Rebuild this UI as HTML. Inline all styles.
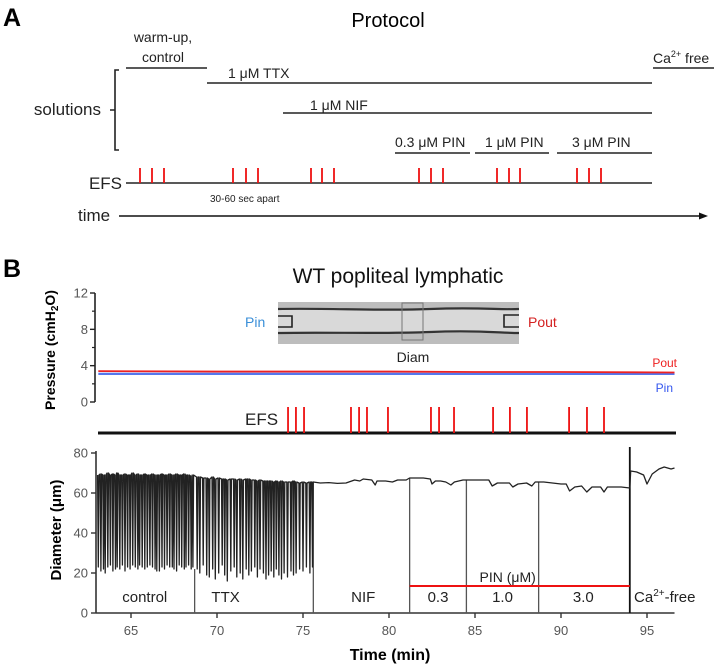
<!DOCTYPE html>
<html><head><meta charset="utf-8">
<style>
html,body{margin:0;padding:0;background:#fff;}
svg{display:block;font-family:"Liberation Sans",sans-serif;}
</style></head>
<body>
<svg id="fig" width="720" height="666" viewBox="0 0 720 666" xmlns="http://www.w3.org/2000/svg">
<!-- Panel A -->
<g>
<text x="3" y="26" font-size="25" font-weight="bold">A</text>
<text x="388" y="27" font-size="20" text-anchor="middle">Protocol</text>
<text x="163" y="42" font-size="14" text-anchor="middle" fill="#222">warm-up,</text>
<text x="163" y="62" font-size="14" text-anchor="middle" fill="#222">control</text>
<line x1="126" y1="68" x2="207" y2="68" stroke="#222" stroke-width="1.6"/>
<text x="228" y="78" font-size="14" fill="#222">1 μM TTX</text>
<line x1="207" y1="83" x2="652" y2="83" stroke="#222" stroke-width="1.6"/>
<text x="310" y="110" font-size="14" fill="#222">1 μM NIF</text>
<line x1="283" y1="113" x2="652" y2="113" stroke="#222" stroke-width="1.6"/>
<text x="395" y="147" font-size="14" fill="#222">0.3 μM PIN</text>
<line x1="395" y1="153" x2="470" y2="153" stroke="#222" stroke-width="1.6"/>
<text x="485" y="147" font-size="14" fill="#222">1 μM PIN</text>
<line x1="475" y1="153" x2="549" y2="153" stroke="#222" stroke-width="1.6"/>
<text x="572" y="147" font-size="14" fill="#222">3 μM PIN</text>
<line x1="557" y1="153" x2="652" y2="153" stroke="#222" stroke-width="1.6"/>
<text x="653" y="63" font-size="14" fill="#222">Ca<tspan font-size="9" dy="-6">2+</tspan><tspan dy="6"> free</tspan></text>
<line x1="653" y1="68" x2="714" y2="68" stroke="#222" stroke-width="1.6"/>
<path d="M119 70 H115 V150 H119 M115 110 H110" fill="none" stroke="#222" stroke-width="1.6"/>
<text x="101" y="115" font-size="17" text-anchor="end" fill="#222">solutions</text>
<text x="122" y="189" font-size="17" text-anchor="end" fill="#222">EFS</text>
<line x1="126" y1="183" x2="652" y2="183" stroke="#222" stroke-width="1.6"/>
<g id="efsA"></g>
<text x="210" y="202" font-size="10" fill="#222">30-60 sec apart</text>
<text x="78" y="221" font-size="17" fill="#222">time</text>
<line x1="119" y1="216" x2="702" y2="216" stroke="#111" stroke-width="1.6"/>
<path d="M708 216 L699 212.5 L699 219.5 Z" fill="#111"/>
</g>

<!-- Panel B -->
<g>
<text x="3" y="277" font-size="25" font-weight="bold">B</text>
<text x="398" y="283" font-size="21" text-anchor="middle" fill="#111">WT popliteal lymphatic</text>

<g>
<rect x="278" y="302" width="241" height="42" fill="#bdbdbd"/>
<rect x="278" y="309" width="241" height="24" fill="#d9d9d9"/>
<path d="M278 309 C330 308 380 311 430 309 S500 310 519 309" fill="none" stroke="#333" stroke-width="2.2"/>
<path d="M278 333 C330 332 380 334 430 332 S500 333 519 333" fill="none" stroke="#333" stroke-width="2.2"/>
<path d="M278 316 H292 V327 H278" fill="none" stroke="#222" stroke-width="1.6"/>
<path d="M519 315 H504 V327 H519" fill="none" stroke="#222" stroke-width="1.6"/>
<rect x="402" y="303" width="21" height="37" fill="none" stroke="#777" stroke-width="1"/>
</g>
<text x="245" y="327" font-size="14" fill="#3a8fd8">Pin</text>
<text x="528" y="327" font-size="14" fill="#d42020">Pout</text>
<text x="413" y="362" font-size="14" text-anchor="middle" fill="#222">Diam</text>

<g id="pressureChart"></g>
<text transform="translate(55,350) rotate(-90)" font-size="14" font-weight="bold" text-anchor="middle">Pressure (cmH<tspan font-size="10" dy="3">2</tspan><tspan dy="-3">O)</tspan></text>
<text x="677" y="367" font-size="12" text-anchor="end" fill="#ee2020">Pout</text>
<text x="673" y="392" font-size="12" text-anchor="end" fill="#3355ee">Pin</text>

<text x="245" y="425" font-size="17" fill="#222">EFS</text>
<g id="efsB"></g>

<g id="diamChart"></g>
<text transform="translate(61,530) rotate(-90)" font-size="15" font-weight="bold" text-anchor="middle">Diameter (μm)</text>
<text x="390" y="660" font-size="16" font-weight="bold" text-anchor="middle">Time  (min)</text>
</g>
</svg>
<script>
// ---- data ----
const protocolEfsX = [140,152,164,233,246,258,311,322,334,419,431,443,497,509,520,577,589,601];
const efsTimes = [74.13,74.59,75.06,77.79,78.26,78.72,79.94,82.44,82.91,83.78,86.05,87.03,88.02,90.47,91.51,92.5];
const pressureTicks = [0,4,8,12];
const pressureMinorTicks = [2,6,10];
const poutT = [63.1,70,75,80,85,90,96.6];
const poutV = [3.4,3.35,3.35,3.35,3.3,3.3,3.25];
const pinT = [63.1,70,75,80,85,90,96.6];
const pinV = [3.1,3.1,3.1,3.1,3.1,3.1,3.1];
const diamTicks = [0,20,40,60,80];
const timeTicks = [65,70,75,80,85,90,95];
const controlTimes = [63.1,63.25,63.4,63.5,63.65,63.8,63.95,64.1,64.2,64.35,64.5,64.65,64.8,64.95,65.1,65.25,65.4,65.5,65.65,65.8,65.95,66.1,66.25,66.4,66.5,66.65,66.8,66.95,67.1,67.25,67.4,67.5,67.65,67.8,67.95,68.1,68.2,68.35,68.5,68.6];
const controlTroughs = [23,21,22,20,23,24,21,22,23,22,24,21,23,22,24,23,22,24,23,22,23,24,23,22,21,21,23,22,24,23,23,22,21,24,23,22,23,24,22,23];
const controlPeaks = [69,69.5,69,69,70,69,69.5,69,70,69,69,69.5,69,69,70,69,69.5,69,69,69.5,69,69,69.5,69,69,69,69.5,69,69,69.5,69,69,69.5,69,69,69.5,69,69,68.5,69];
const ttxTimes = [68.85,69.0,69.2,69.4,69.55,69.75,69.9,70.1,70.3,70.45,70.6,70.8,71.0,71.15,71.35,71.5,71.7,71.85,72.0,72.2,72.35,72.5,72.7,72.85,73.0,73.15,73.3,73.45,73.6,73.75,73.9,74.1,74.3,74.45,74.6,74.8,75.0,75.2,75.4,75.55];
const ttxTroughs = [22,20,24,19,18,22,17,20,24,19,16,21,23,18,20,17,22,19,21,23,18,22,20,17,19,21,18,22,19,17,20,18,21,19,20,22,21,23,20,23];
const ttxPeaks = [68,68,67.5,67.5,67,68,67,67.5,67,67,66.5,67,67,66.5,67,66.5,67,67,66.5,66.5,66,66.5,66,66,66,66,65.5,66,65.5,66,65.5,65.5,65.5,66,65.5,65,65.5,65,65.5,65.5];
const restT = [75.6,76,76.5,77,77.5,78,78.3,78.5,79,79.2,79.3,79.8,80.2,80.5,81,81.2,82,82.4,82.5,82.7,83,83.3,83.6,83.8,84.3,85,85.8,86,86.3,87,87.2,87.5,88,88.3,88.5,89,90,90.3,90.5,90.8,91.2,91.5,91.8,92.3,92.5,92.7,93.5,94,94.05,94.4,94.8,95,95.3,95.7,96,96.4,96.6];
const restV = [65.5,65,65.2,64.8,65,66.5,66,67,66.5,64,66,66,65.5,66.5,66.5,67.5,67.5,67,64.5,66,66,65.5,64,65.5,66.5,66.5,66.5,63.5,65,65,63,64.5,65,63.5,65.5,65.5,64.5,64.5,61,63,63.5,60.5,63,63,60.5,63,63,62.5,71,70.5,69,64.5,69.5,72,73,72,72.5];
const dividerTimes = [68.7,75.6,81.2,84.5,88.7];
const dividerTops = [22,65.5,67.5,66.5,65.5];
const caTime = 94.0;
const caTop = 83;
const pinBarStart = 81.2, pinBarEnd = 94.0, pinBarLevel = 13.5;
const phaseLabels = ["control","TTX","NIF","0.3","1.0","3.0"];
const phaseCenters = [65.8,70.5,78.5,82.85,86.6,91.3];

// ---- scales ----
const xT = t => 131 + (t - 65) * 17.2;
const yD = d => 613 - d * 2.0;
const yP = p => 402 - p * 9.083;
const NS = "http://www.w3.org/2000/svg";
function mk(tag, parent, attrs){ const e=document.createElementNS(NS,tag); for(const k in attrs) e.setAttribute(k,attrs[k]); parent.appendChild(e); return e; }

// Panel A EFS pulses
const efsA = document.getElementById('efsA');
protocolEfsX.forEach(x=>{
  const l = mk('line', efsA, {x1:x,y1:168,x2:x,y2:183,stroke:'#ee1111','stroke-width':1.8});
  
  
});

// Pressure chart
const pc = document.getElementById('pressureChart');
const pax = mk('line', pc, {x1:95,y1:yP(12),x2:95,y2:yP(0),stroke:'#222','stroke-width':1.6});


pressureTicks.forEach(v=>{
  const t = mk('line', pc, {x1:90,y1:yP(v),x2:95,y2:yP(v),stroke:'#222','stroke-width':1.4});
  
  
  const tx = mk('text', pc, {x:88,y:yP(v)+4.5,'font-size':13,'text-anchor':'end',fill:'#555'});
  tx.textContent = v;
  
  
});
pressureMinorTicks.forEach(v=>{
  const t = mk('line', pc, {x1:92,y1:yP(v),x2:95,y2:yP(v),stroke:'#222','stroke-width':1.2});
  
  
});
const pinLine = mk('polyline', pc, {points:pinT.map((t,i)=>xT(t)+','+yP(pinV[i])).join(' '),fill:'none',stroke:'#5577ee','stroke-width':2.2});


const poutLine = mk('polyline', pc, {points:poutT.map((t,i)=>xT(t)+','+yP(poutV[i])).join(' '),fill:'none',stroke:'#ee2222','stroke-width':1.8});



// EFS B
const efsB = document.getElementById('efsB');
const efsLine = mk('line', efsB, {x1:98,y1:433,x2:676,y2:433,stroke:'#111','stroke-width':3});


efsTimes.forEach(t=>{
  const l = mk('line', efsB, {x1:xT(t),y1:407,x2:xT(t),y2:433,stroke:'#ee1111','stroke-width':1.8});
  
  
});

// Diameter chart
const dc = document.getElementById('diamChart');
const yax = mk('line', dc, {x1:96,y1:yD(81),x2:96,y2:yD(0),stroke:'#333','stroke-width':1.6});


const xax = mk('line', dc, {x1:96,y1:yD(0),x2:xT(96.6),y2:yD(0),stroke:'#333','stroke-width':1.6});


diamTicks.forEach(v=>{
  const t = mk('line', dc, {x1:91,y1:yD(v),x2:96,y2:yD(v),stroke:'#333','stroke-width':1.4});
  
  
  const tx = mk('text', dc, {x:88,y:yD(v)+4.5,'font-size':13,'text-anchor':'end',fill:'#555'});
  tx.textContent = v;
  
  
});
timeTicks.forEach(v=>{
  const t = mk('line', dc, {x1:xT(v),y1:yD(0),x2:xT(v),y2:yD(0)+5,stroke:'#333','stroke-width':1.4});
  
  
  const tx = mk('text', dc, {x:xT(v),y:635,'font-size':13,'text-anchor':'middle',fill:'#555'});
  tx.textContent = v;
  
  
});
dividerTimes.forEach((t,i)=>{
  const l = mk('line', dc, {x1:xT(t),y1:yD(0),x2:xT(t),y2:yD(dividerTops[i]),stroke:'#555','stroke-width':1.3});
  
  
});
const caL = mk('line', dc, {x1:xT(caTime),y1:yD(0),x2:xT(caTime),y2:yD(caTop),stroke:'#111','stroke-width':1.8});


const pinBar = mk('line', dc, {x1:xT(pinBarStart),y1:yD(pinBarLevel),x2:xT(pinBarEnd),y2:yD(pinBarLevel),stroke:'#ee1111','stroke-width':2});


const pinTxt = mk('text', dc, {x:xT(86.9),y:582,'font-size':14,'text-anchor':'middle',fill:'#222'});
pinTxt.textContent = 'PIN (μM)';


phaseLabels.forEach((s,i)=>{
  const tx = mk('text', dc, {x:xT(phaseCenters[i]),y:602,'font-size':15,'text-anchor':'middle',fill:'#222'});
  tx.textContent = s;
  
  
});
const caTx = mk('text', dc, {x:634,y:602,'font-size':15,fill:'#222'});
caTx.innerHTML = 'Ca<tspan font-size="10" dy="-6">2+</tspan><tspan dy="6">-free</tspan>';



// trace
let pts = [];
function addContr(times, troughs, peaks){
  times.forEach((t,i)=>{
    pts.push([t-0.04, peaks[i]]);
    pts.push([t, troughs[i]]);
    pts.push([t+0.04, peaks[i]]);
  });
}
addContr(controlTimes, controlTroughs, controlPeaks);
addContr(ttxTimes, ttxTroughs, ttxPeaks);
restT.forEach((t,i)=>pts.push([t, restV[i]]));
const trace = mk('polyline', dc, {points:pts.map(p=>xT(p[0]).toFixed(1)+','+yD(p[1]).toFixed(1)).join(' '),fill:'none',stroke:'#222','stroke-width':1.3,'stroke-linejoin':'round'});


</script>
</body></html>
